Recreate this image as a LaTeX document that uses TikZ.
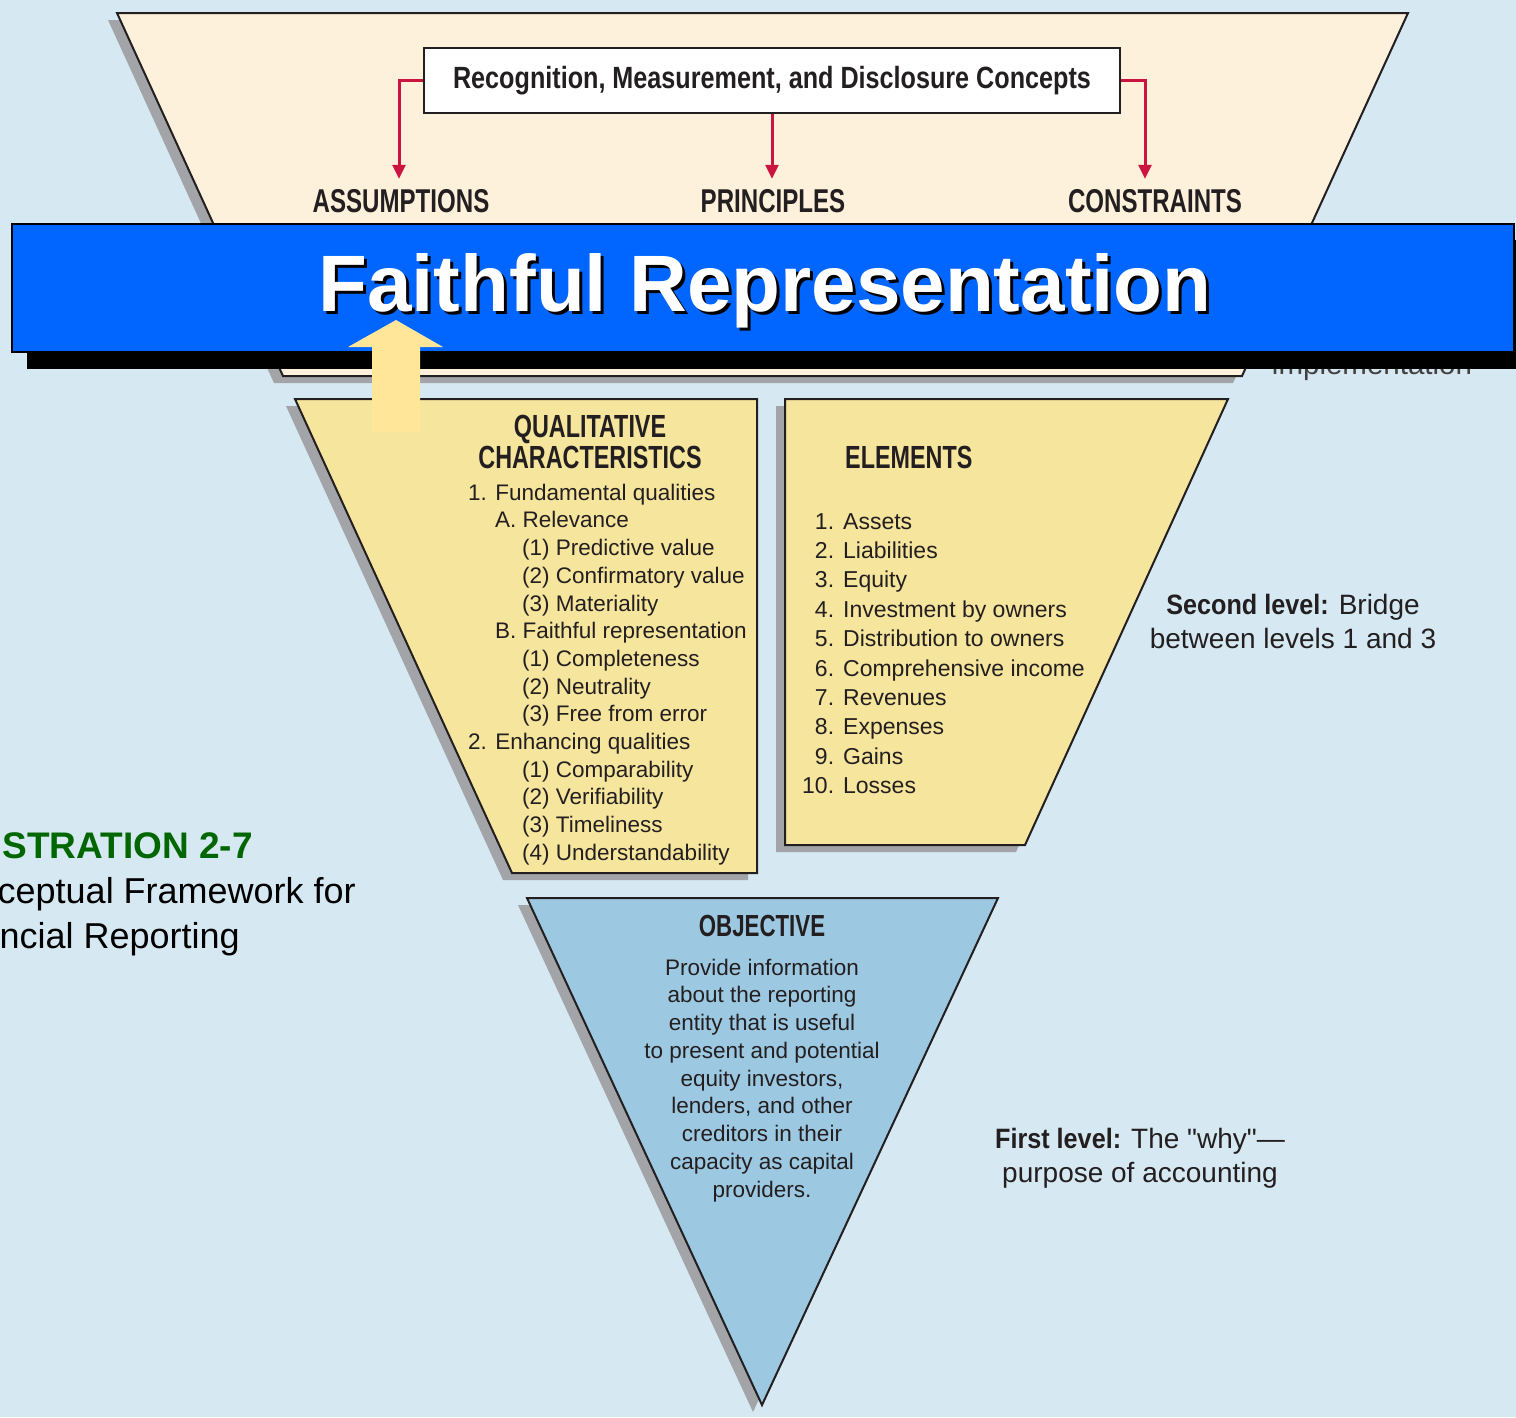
\documentclass[tikz,border=0pt]{standalone}
\usepackage{fontspec}
\setmainfont{Liberation Sans}
\newfontfamily\condfont[FakeStretch=0.73]{Liberation Sans}
\newfontfamily\boxfont[FakeStretch=0.82]{Liberation Sans}
\newfontfamily\semicondfont[FakeStretch=0.9, Ligatures=TeXOff]{Liberation Sans}
\newfontfamily\sidefont[Ligatures=TeXOff]{Liberation Sans}
\usetikzlibrary{arrows.meta}

\definecolor{bgblue}{HTML}{D6E8F2}
\definecolor{cream}{HTML}{FDF1DC}
\definecolor{sandyellow}{HTML}{F6E59C}
\definecolor{skyblue}{HTML}{9DC8E2}
\definecolor{bannerblue}{HTML}{0066FF}
\definecolor{paleyellow}{HTML}{FFE699}
\definecolor{crimson}{HTML}{CC1440}
\definecolor{shadowgray}{HTML}{A2A4A8}
\definecolor{inkdark}{HTML}{231F20}
\definecolor{darkgreen}{HTML}{006600}

\tikzset{
  shapeline/.style={draw=inkdark, line width=2pt, line join=miter},
  dropshade/.style={fill=shadowgray, shift={(-9,7)}},
  heading/.style={font=\condfont\bfseries\fontsize{32}{32}\selectfont, text=inkdark, inner sep=0pt},
  listtext/.style={font=\fontsize{22.5}{27.7}\selectfont, text=inkdark, inner sep=0pt},
  redarrow/.style={draw=crimson, line width=3pt, -{Triangle[length=14pt,width=13pt]}, shorten >=10pt},
  sidenote/.style={font=\sidefont\fontsize{28}{34}\selectfont, text=inkdark, inner sep=0pt},
}

\begin{document}
\begin{tikzpicture}[x=1pt, y=-1pt]
  \useasboundingbox (0,0) rectangle (1516,1417);
  \fill[bgblue] (0,0) rectangle (1516,1417);

  % third level
  \fill[dropshade] (117,13) -- (1408,13) -- (1242,376) -- (283,376) -- cycle;
  \draw[shapeline, fill=cream] (117,13) -- (1408,13) -- (1242,376) -- (283,376) -- cycle;

  \node (rmd) [draw=inkdark, line width=2.5pt, fill=white, minimum width=696pt, minimum height=65pt, inner sep=0pt,
    font=\boxfont\bfseries\fontsize{30.7}{31}\selectfont, text=inkdark] at (772,80.5) {Recognition, Measurement, and Disclosure Concepts};
  \node (assump) [heading, font=\condfont\bfseries\fontsize{33}{33}\selectfont, anchor=base] at (401,212) {ASSUMPTIONS};
  \node (princ) [heading, font=\condfont\bfseries\fontsize{33}{33}\selectfont, anchor=base] at (773,212) {PRINCIPLES};
  \node (constr) [heading, font=\condfont\bfseries\fontsize{33}{33}\selectfont, anchor=base] at (1155,212) {CONSTRAINTS};

  % Arrows
  \draw[redarrow] (rmd.west) -| ([xshift=-2pt]assump.north);
  \draw[redarrow] (rmd.south) -- (rmd.south |- princ.north);
  \draw[redarrow] (rmd.east) -| ([xshift=-10pt]constr.north);

  % banner
  \node (impl) [font=\fontsize{29.5}{30}\selectfont, text=inkdark!85, anchor=base, inner sep=0pt] at (1372,374) {implementation};
  \fill[black] (27,240) rectangle (1516,369);
  \draw[black, line width=2pt, fill=bannerblue] (12,224) rectangle (1514,352);
  \node (frshadow) [font=\bfseries\fontsize{80}{80}\selectfont, text=black, anchor=base, inner sep=0pt] at (768,314) {Faithful Representation};
  \node (fr) [font=\bfseries\fontsize{80}{80}\selectfont, text=white, anchor=base, inner sep=0pt] at (765,311) {Faithful Representation};

  % second level
  \fill[dropshade] (295,399) -- (757,399) -- (757,873) -- (512,873) -- cycle;
  \draw[shapeline, fill=sandyellow] (295,399) -- (757,399) -- (757,873) -- (512,873) -- cycle;
  \fill[dropshade] (785,399) -- (1228,399) -- (1025,845) -- (785,845) -- cycle;
  \draw[shapeline, fill=sandyellow] (785,399) -- (1228,399) -- (1025,845) -- (785,845) -- cycle;

  \node (qual) [heading, anchor=base] at (590,437) {QUALITATIVE};
  \node (char) [heading, anchor=base] at (590,468) {CHARACTERISTICS};
  \node (qlist) [listtext, anchor=north west] at (468,480.6) {\begin{tabular}{@{}l@{}}
    1. Fundamental qualities\\
    \hspace*{27pt}A. Relevance\\
    \hspace*{54pt}(1) Predictive value\\
    \hspace*{54pt}(2) Confirmatory value\\
    \hspace*{54pt}(3) Materiality\\
    \hspace*{27pt}B. Faithful representation\\
    \hspace*{54pt}(1) Completeness\\
    \hspace*{54pt}(2) Neutrality\\
    \hspace*{54pt}(3) Free from error\\
    2. Enhancing qualities\\
    \hspace*{54pt}(1) Comparability\\
    \hspace*{54pt}(2) Verifiability\\
    \hspace*{54pt}(3) Timeliness\\
    \hspace*{54pt}(4) Understandability
  \end{tabular}};

  \node (elem) [heading, anchor=base west] at (845,468) {ELEMENTS};
  \node (elist) [listtext, font=\fontsize{23}{29.4}\selectfont, anchor=north west] at (802,508.4) {\begin{tabular}{@{}r@{\hspace{9pt}}l@{}}
    1. & Assets\\
    2. & Liabilities\\
    3. & Equity\\
    4. & Investment by owners\\
    5. & Distribution to owners\\
    6. & Comprehensive income\\
    7. & Revenues\\
    8. & Expenses\\
    9. & Gains\\
    10. & Losses
  \end{tabular}};

  % first level
  \fill[dropshade] (527,898) -- (998,898) -- (762,1405) -- cycle;
  \draw[shapeline, fill=skyblue] (527,898) -- (998,898) -- (762,1405) -- cycle;
  \node (obj) [heading, font=\condfont\bfseries\fontsize{30.5}{30}\selectfont, anchor=base] at (762,936) {OBJECTIVE};
  \node (objtext) [listtext, font=\fontsize{22.5}{27.75}\selectfont, anchor=north] at (762,955.6) {\begin{tabular}{@{}c@{}}
    Provide information\\
    about the reporting\\
    entity that is useful\\
    to present and potential\\
    equity investors,\\
    lenders, and other\\
    creditors in their\\
    capacity as capital\\
    providers.
  \end{tabular}};

  % yellow arrow
  \fill[paleyellow] (372,432) -- (372,347) -- (348,347) -- (396,320) -- (443,347) -- (420,347) -- (420,432) -- cycle;

  % side notes
  \node (second) [sidenote, anchor=north] at (1293,590) {\begin{tabular}{@{}c@{}}
    {\semicondfont\bfseries Second level:}\hspace{10pt}Bridge\\
    between levels 1 and 3
  \end{tabular}};
  \node (first) [sidenote, anchor=north] at (1140,1124) {\begin{tabular}{@{}c@{}}
    {\semicondfont\bfseries First level:}\hspace{10pt}The "why"—\\
    purpose of accounting
  \end{tabular}};

  \node (illus) [font=\bfseries\fontsize{37}{37}\selectfont, text=darkgreen, anchor=base east, inner sep=0pt] at (253,858) {STRATION 2-7};
  \node (illus2) [font=\fontsize{36}{36}\selectfont, text=black, anchor=base east, inner sep=0pt] at (356,903) {ceptual Framework for};
  \node (illus3) [font=\fontsize{36}{36}\selectfont, text=black, anchor=base east, inner sep=0pt] at (240,948) {ncial Reporting};
\end{tikzpicture}
\end{document}
